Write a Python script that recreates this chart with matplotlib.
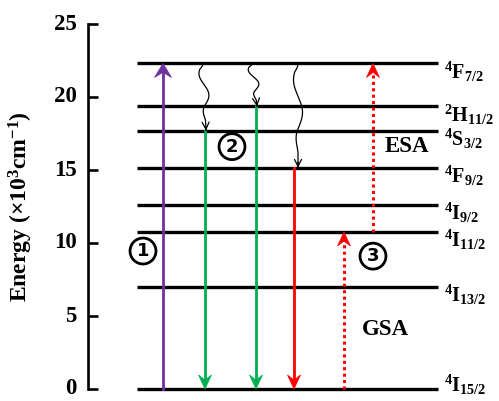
import matplotlib
matplotlib.use("Agg")
import matplotlib.pyplot as plt
import numpy as np
from matplotlib.patches import Polygon

plt.rcParams["font.family"] = "Liberation Serif"
plt.rcParams["font.weight"] = "bold"
plt.rcParams["mathtext.fontset"] = "custom"
plt.rcParams["mathtext.rm"] = "Liberation Serif:bold"
plt.rcParams["mathtext.it"] = "Liberation Serif:bold"
plt.rcParams["mathtext.bf"] = "Liberation Serif:bold"

# Er3+ energy levels (x10^3 cm^-1)
level_energy = [0.0, 7.0, 10.75, 12.6, 15.15, 17.7, 19.35, 22.3]
level_names = [
    r"$^{4}$I$_{15/2}$",
    r"$^{4}$I$_{13/2}$",
    r"$^{4}$I$_{11/2}$",
    r"$^{4}$I$_{9/2}$",
    r"$^{4}$F$_{9/2}$",
    r"$^{4}$S$_{3/2}$",
    r"$^{2}$H$_{11/2}$",
    r"$^{4}$F$_{7/2}$",
]

# radiative transitions: (x column, start energy, end energy, colour, dotted)
arrow_x = [163, 205, 256, 294, 344, 373]
arrow_start = [0.0, 17.7, 19.35, 15.15, 0.0, 10.75]
arrow_end = [22.3, 0.0, 0.0, 0.0, 10.75, 22.3]
arrow_color = ["#7030A0", "#00B050", "#00B050", "#FF0000", "#FF0000", "#FF0000"]
arrow_dotted = [False, False, False, False, True, True]

# non-radiative relaxation (wavy arrows)
wavy_x0 = [203, 252, 298]
wavy_x1 = [206, 257, 298]
wavy_start = [22.3, 22.3, 22.3]
wavy_end = [17.7, 19.35, 15.15]

yticks = [0, 5, 10, 15, 20, 25]

W, H = 499, 401
fig = plt.figure(figsize=(W / 100, H / 100), dpi=100)
ax_box = [88 / W, 12 / H, 411 / W, 365 / H]
ax = fig.add_axes(ax_box)
ax.set_xlim(88, 499)
ax.set_ylim(0, 25)
px_per_unit = ax_box[3] * H / 25.0  # vertical pixels per energy unit


def head(x, y_tip, up, color, width=13, length=14, notch=5):
    # notched (stealth-like) arrow head, sizes in pixels
    s = 1 if up else -1
    L = length / px_per_unit
    n = notch / px_per_unit
    pts = [
        (x, y_tip),
        (x - width / 2, y_tip - s * L),
        (x, y_tip - s * (L - n)),
        (x + width / 2, y_tip - s * L),
    ]
    ax.add_patch(Polygon(pts, closed=True, fc=color, ec=color, lw=0.5,
                         clip_on=False, zorder=4))


# levels
for e, name in zip(level_energy, level_names):
    ax.plot([137, 438], [e, e], color="black", lw=2.4, solid_capstyle="butt",
            clip_on=False, zorder=2)
    # the ground-state label is lifted so it stays inside the figure
    off = 0.3 if e == 0 else -0.55
    ax.text(444, e + off, name, fontsize=14.5, ha="left", va="center")

# straight transitions
for x, y0, y1, c, dot in zip(arrow_x, arrow_start, arrow_end, arrow_color, arrow_dotted):
    up = y1 > y0
    back = 9 / px_per_unit
    shaft_end = y1 - back if up else y1 + back
    if dot:
        ax.plot([x, x], [y0, shaft_end], color=c, lw=2.2, ls=(0, (1, 1.1)),
                clip_on=False, zorder=3)
    else:
        ax.plot([x, x], [y0, shaft_end], color=c, lw=2.0, clip_on=False, zorder=3)
    w = 17 if c == "#7030A0" else 13
    head(x, y1, up, c, width=w)

# wavy non-radiative arrows
for x0, x1, y0, y1 in zip(wavy_x0, wavy_x1, wavy_start, wavy_end):
    t = np.linspace(0, 1, 200)
    y = y0 + (y1 - y0) * t
    env = np.clip((0.85 - t) / 0.25, 0, 1) * np.clip(t / 0.08, 0, 1)
    x = x0 + (x1 - x0) * t - 4.5 * np.sin(2 * np.pi * 1.6 * t) * env
    ax.plot(x, y, color="black", lw=0.9, zorder=3)
    ax.annotate("", xy=(x1, y1), xytext=(x[-12], y[-12]),
                arrowprops=dict(arrowstyle="->,head_length=0.5,head_width=0.25",
                                color="black", lw=0.9, shrinkA=0, shrinkB=0))

# circled step numbers
circ = dict(boxstyle="circle,pad=0.22", fc="white", ec="black", lw=2.0)
for label, x, y in [("1", 143, 9.45), ("2", 232, 16.6), ("3", 373, 9.1)]:
    ax.text(x, y, label, fontsize=13, family="DejaVu Sans", fontweight="bold",
            ha="center", va="center", bbox=circ, zorder=5)

ax.text(407, 16.6, "ESA", fontsize=16.5, ha="center", va="center")
ax.text(385, 4.1, "GSA", fontsize=16.5, ha="center", va="center")

# axis styling
for side in ["top", "right", "bottom"]:
    ax.spines[side].set_visible(False)
ax.spines["left"].set_linewidth(1.9)
ax.set_xticks([])
ax.set_yticks(yticks)
ax.tick_params(axis="y", direction="in", length=7.5, width=1.9, pad=8,
               labelsize=16.5)
for lab in ax.get_yticklabels():
    lab.set_fontweight("bold")
    lab.set_va("center")
ax.set_ylabel(r"Energy ($\times$10$^{3}$cm$^{-1}$)", fontsize=17,
              fontweight="bold")
ax.yaxis.set_label_coords(-0.129, 0.5)
ax.patch.set_alpha(0)

fig.savefig("out.png", dpi=100)
